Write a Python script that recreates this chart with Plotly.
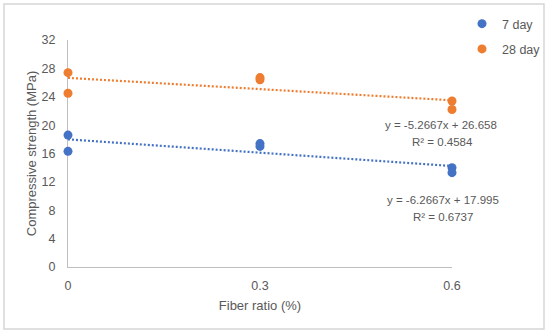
import plotly.graph_objects as go

fiber = [0, 0, 0.3, 0.3, 0.6, 0.6]
day7 = [18.6, 16.3, 17.4, 17.0, 14.0, 13.3]
day28 = [27.4, 24.5, 26.7, 26.4, 23.4, 22.2]

fit7 = (-6.2667, 17.995)
fit28 = (-5.2667, 26.658)
r2_7 = 0.6737
r2_28 = 0.4584

x_ticks = [0, 0.3, 0.6]
x_ticklabels = ["0", "0.3", "0.6"]
y_ticks = [0, 4, 8, 12, 16, 20, 24, 28, 32]

blue = "#4472C4"
orange = "#ED7D31"
grey = "#595959"
font = "Liberation Sans"

W, H = 550, 335
L, R, T, B = 68, 452, 40, 267          # plot area in pixels
ML, MR, MT, MB = 68, 0, 0, H - 267      # figure margins
PW, PH = W - ML - MR, H - MT - MB

def dx(px):
    return (px - ML) / PW

def dy(py):
    return (H - MB - py) / PH

fig = go.Figure()

xl = [min(fiber), max(fiber)]
for (m, b), col in [(fit7, blue), (fit28, orange)]:
    fig.add_trace(go.Scatter(
        x=xl, y=[m * v + b for v in xl], mode="lines",
        line=dict(color=col, width=2.2, dash="2px,2px"),
        showlegend=False, hoverinfo="skip"))

fig.add_trace(go.Scatter(x=fiber, y=day7, mode="markers", name="7 day",
                         marker=dict(color=blue, size=9), cliponaxis=False,
                         legendgroup="a"))
fig.add_trace(go.Scatter(x=fiber, y=day28, mode="markers", name="28 day",
                         marker=dict(color=orange, size=9), cliponaxis=False,
                         legendgroup="b"))

def eq(m, b):
    return f"y = {m}x + {b}"

afont = dict(family=font, size=11.5, color=grey)
for text, px, py in [(eq(*fit28), 441, 125), (f"R² = {r2_28}", 442, 142),
                     (eq(*fit7), 443, 200), (f"R² = {r2_7}", 443, 217)]:
    fig.add_annotation(x=dx(px), y=dy(py), xref="paper", yref="paper",
                       text=text, showarrow=False, xanchor="center",
                       yanchor="middle", font=afont)

fig.add_shape(type="rect", xref="paper", yref="paper",
              x0=dx(4), x1=dx(544), y0=dy(329), y1=dy(4),
              line=dict(color="#D6D6D6", width=1.5), fillcolor="rgba(0,0,0,0)",
              layer="above")

fig.update_layout(
    width=W, height=H,
    margin=dict(l=ML, r=MR, t=MT, b=MB),
    plot_bgcolor="white", paper_bgcolor="white",
    font=dict(family=font, size=12, color=grey),
    showlegend=True,
    legend=dict(x=dx(462), y=dy(9),
                xanchor="left", yanchor="top",
                font=dict(size=12.5, color=grey, family=font),
                tracegroupgap=6, itemwidth=30, bgcolor="rgba(0,0,0,0)"),
    xaxis=dict(domain=[dx(L), dx(R)], range=[0, 0.6], tickvals=x_ticks,
               ticktext=x_ticklabels, automargin=False,
               showgrid=False, zeroline=False, showline=True,
               linecolor="#BFBFBF", linewidth=1, ticks="", ticklen=0,
               tickfont=dict(size=12.5, color=grey), layer="below traces",
               ticklabelstandoff=7,
               title=dict(text="Fiber ratio (%)", font=dict(size=13, color=grey),
                          standoff=8)),
    yaxis=dict(domain=[dy(B), dy(T)], range=[0, 32], tickvals=y_ticks,
               showgrid=False, automargin=False,
               zeroline=False, showline=True, linecolor="#BFBFBF",
               linewidth=1, ticks="", tickfont=dict(size=12.5, color=grey),
               layer="below traces", ticklabelstandoff=9,
               title=dict(text="Compressive strength (MPa)",
                          font=dict(size=13, color=grey), standoff=2)),
)

fig.write_html("out.html", config={"displayModeBar": False},
               post_script="document.body.style.margin='0';")
